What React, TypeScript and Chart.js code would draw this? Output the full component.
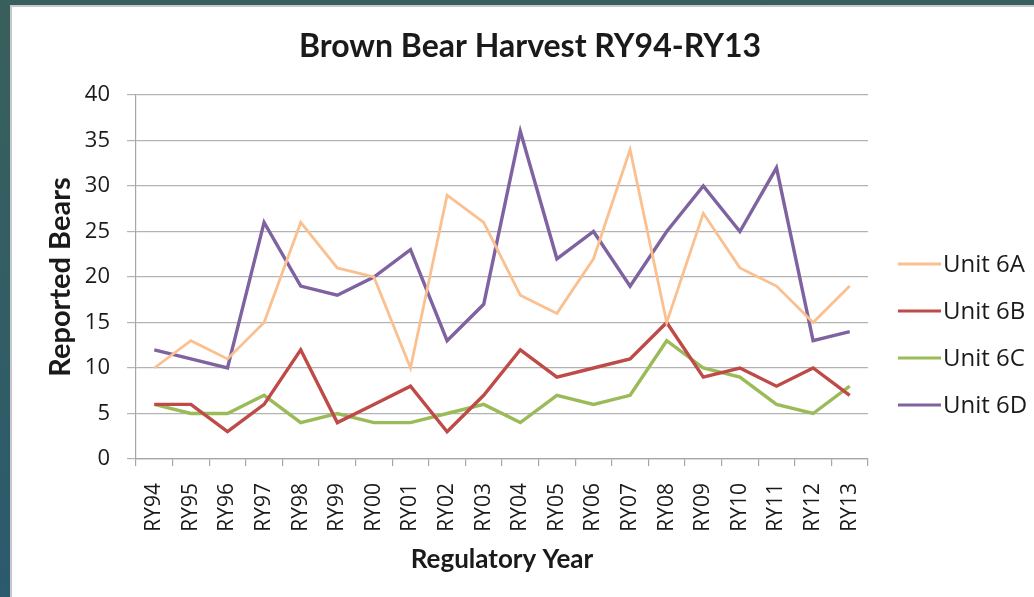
import React, { useEffect, useRef } from "react";
import { Chart, registerables } from "chart.js";

Chart.register(...registerables);

const categories = [
  "RY94", "RY95", "RY96", "RY97", "RY98", "RY99", "RY00", "RY01", "RY02", "RY03",
  "RY04", "RY05", "RY06", "RY07", "RY08", "RY09", "RY10", "RY11", "RY12", "RY13",
];
const unit6A = [10, 13, 11, 15, 26, 21, 20, 10, 29, 26, 18, 16, 22, 34, 15, 27, 21, 19, 15, 19];
const unit6B = [6, 6, 3, 6, 12, 4, 6, 8, 3, 7, 12, 9, 10, 11, 15, 9, 10, 8, 10, 7];
const unit6C = [6, 5, 5, 7, 4, 5, 4, 4, 5, 6, 4, 7, 6, 7, 13, 10, 9, 6, 5, 8];
const unit6D = [12, 11, 10, 26, 19, 18, 20, 23, 13, 17, 36, 22, 25, 19, 25, 30, 25, 32, 13, 14];
const seriesNames = ["Unit 6A", "Unit 6B", "Unit 6C", "Unit 6D"];
const seriesColors = ["#fac090", "#be4b48", "#9bbb59", "#7f63a1"];
const yMin = 0;
const yMax = 40;
const yStep = 5;
const chartTitle = "Brown Bear Harvest RY94-RY13";
const yTitle = "Reported Bears";
const xTitle = "Regulatory Year";

const TEXT = "#1a1a1a";
const SANS = "'Open Sans', 'Noto Sans', sans-serif";
const TITLE_FONT = "Lato, 'Open Sans', sans-serif";

const titlePlugin = {
  id: "customTitle",
  afterDraw(chart: any) {
    const ctx = chart.ctx;
    ctx.save();
    ctx.font = `bold 32px ${TITLE_FONT}`;
    ctx.fillStyle = TEXT;
    ctx.textAlign = "center";
    ctx.textBaseline = "alphabetic";
    ctx.fillText(chartTitle, 530, 57, 466);
    ctx.restore();
  },
};

const legendPlugin = {
  id: "customLegend",
  afterDraw(chart: any) {
    const ctx = chart.ctx;
    ctx.save();
    const ys = [264, 311, 358, 405];
    chart.data.datasets.forEach((ds: any, i: number) => {
      const y = ys[i];
      ctx.strokeStyle = ds.borderColor;
      ctx.lineWidth = 3;
      ctx.beginPath();
      ctx.moveTo(898, y);
      ctx.lineTo(941, y);
      ctx.stroke();
      ctx.fillStyle = TEXT;
      ctx.font = `24px ${SANS}`;
      ctx.textAlign = "left";
      ctx.textBaseline = "middle";
      ctx.fillText(ds.label, 943, y + 1);
    });
    ctx.restore();
  },
};

export default function App() {
  const ref = useRef<HTMLCanvasElement | null>(null);

  useEffect(() => {
    if (!ref.current) return;
    const seriesValues = [unit6A, unit6B, unit6C, unit6D];
    const chart = new Chart(ref.current, {
      type: "line",
      data: {
        labels: categories,
        datasets: seriesValues.map((vals, i) => ({
          label: seriesNames[i],
          data: vals,
          borderColor: seriesColors[i],
          backgroundColor: seriesColors[i],
          borderWidth: i === 0 ? 2.8 : 3.4,
          pointRadius: 0,
          tension: 0,
          fill: false,
        })),
      },
      options: {
        responsive: false,
        animation: false,
        layout: { padding: { left: 0, right: 166, top: 95, bottom: 0 } },
        plugins: {
          legend: { display: false },
          title: { display: false },
          tooltip: { enabled: false },
        },
        scales: {
          x: {
            type: "category",
            offset: true,
            grid: {
              display: true,
              offset: true,
              drawOnChartArea: false,
              drawTicks: true,
              tickLength: 7,
              color: "#a6a6a6",
              lineWidth: 1.2,
            },
            border: { display: true, color: "#a6a6a6", width: 1.2 },
            ticks: {
              autoSkip: false,
              minRotation: 90,
              maxRotation: 90,
              padding: 17,
              color: TEXT,
              font: { family: SANS, size: 21 },
            },
            title: {
              display: true,
              text: xTitle,
              color: TEXT,
              font: { family: TITLE_FONT, size: 26, weight: "bold" },
              padding: { top: 0, bottom: 22 },
            },
            afterFit(scale: any) {
              scale.height = 138;
            },
          },
          y: {
            min: yMin,
            max: yMax,
            ticks: {
              stepSize: yStep,
              padding: 17,
              color: TEXT,
              font: { family: SANS, size: 22 },
            },
            grid: {
              color: "#b3b3b3",
              lineWidth: 1.2,
              drawTicks: true,
              tickLength: 9,
            },
            border: { display: true, color: "#a6a6a6", width: 1.2 },
            title: {
              display: true,
              text: yTitle,
              color: TEXT,
              font: { family: TITLE_FONT, size: 29, weight: "bold" },
              padding: { top: 43, bottom: 0 },
            },
            afterFit(scale: any) {
              scale.width = 136;
            },
          },
        },
      },
      plugins: [titlePlugin, legendPlugin],
    });
    return () => chart.destroy();
  }, []);

  return (
    <div
      style={{
        position: "fixed",
        left: 0,
        top: 0,
        width: 1034,
        height: 597,
        background: "linear-gradient(to bottom, #385f5b 0%, #325d64 50%, #2c5a6e 100%)",
        overflow: "hidden",
      }}
    >
      <div
        style={{
          position: "absolute",
          left: 10,
          top: 5,
          right: -2,
          bottom: -2,
          background: "#ffffff",
          borderLeft: "2px solid #c8c8c8",
          borderTop: "2px solid #c8c8c8",
        }}
      />
      <canvas
        ref={ref}
        width={1034}
        height={597}
        style={{ position: "absolute", left: 0, top: 0, width: 1034, height: 597 }}
      />
    </div>
  );
}
